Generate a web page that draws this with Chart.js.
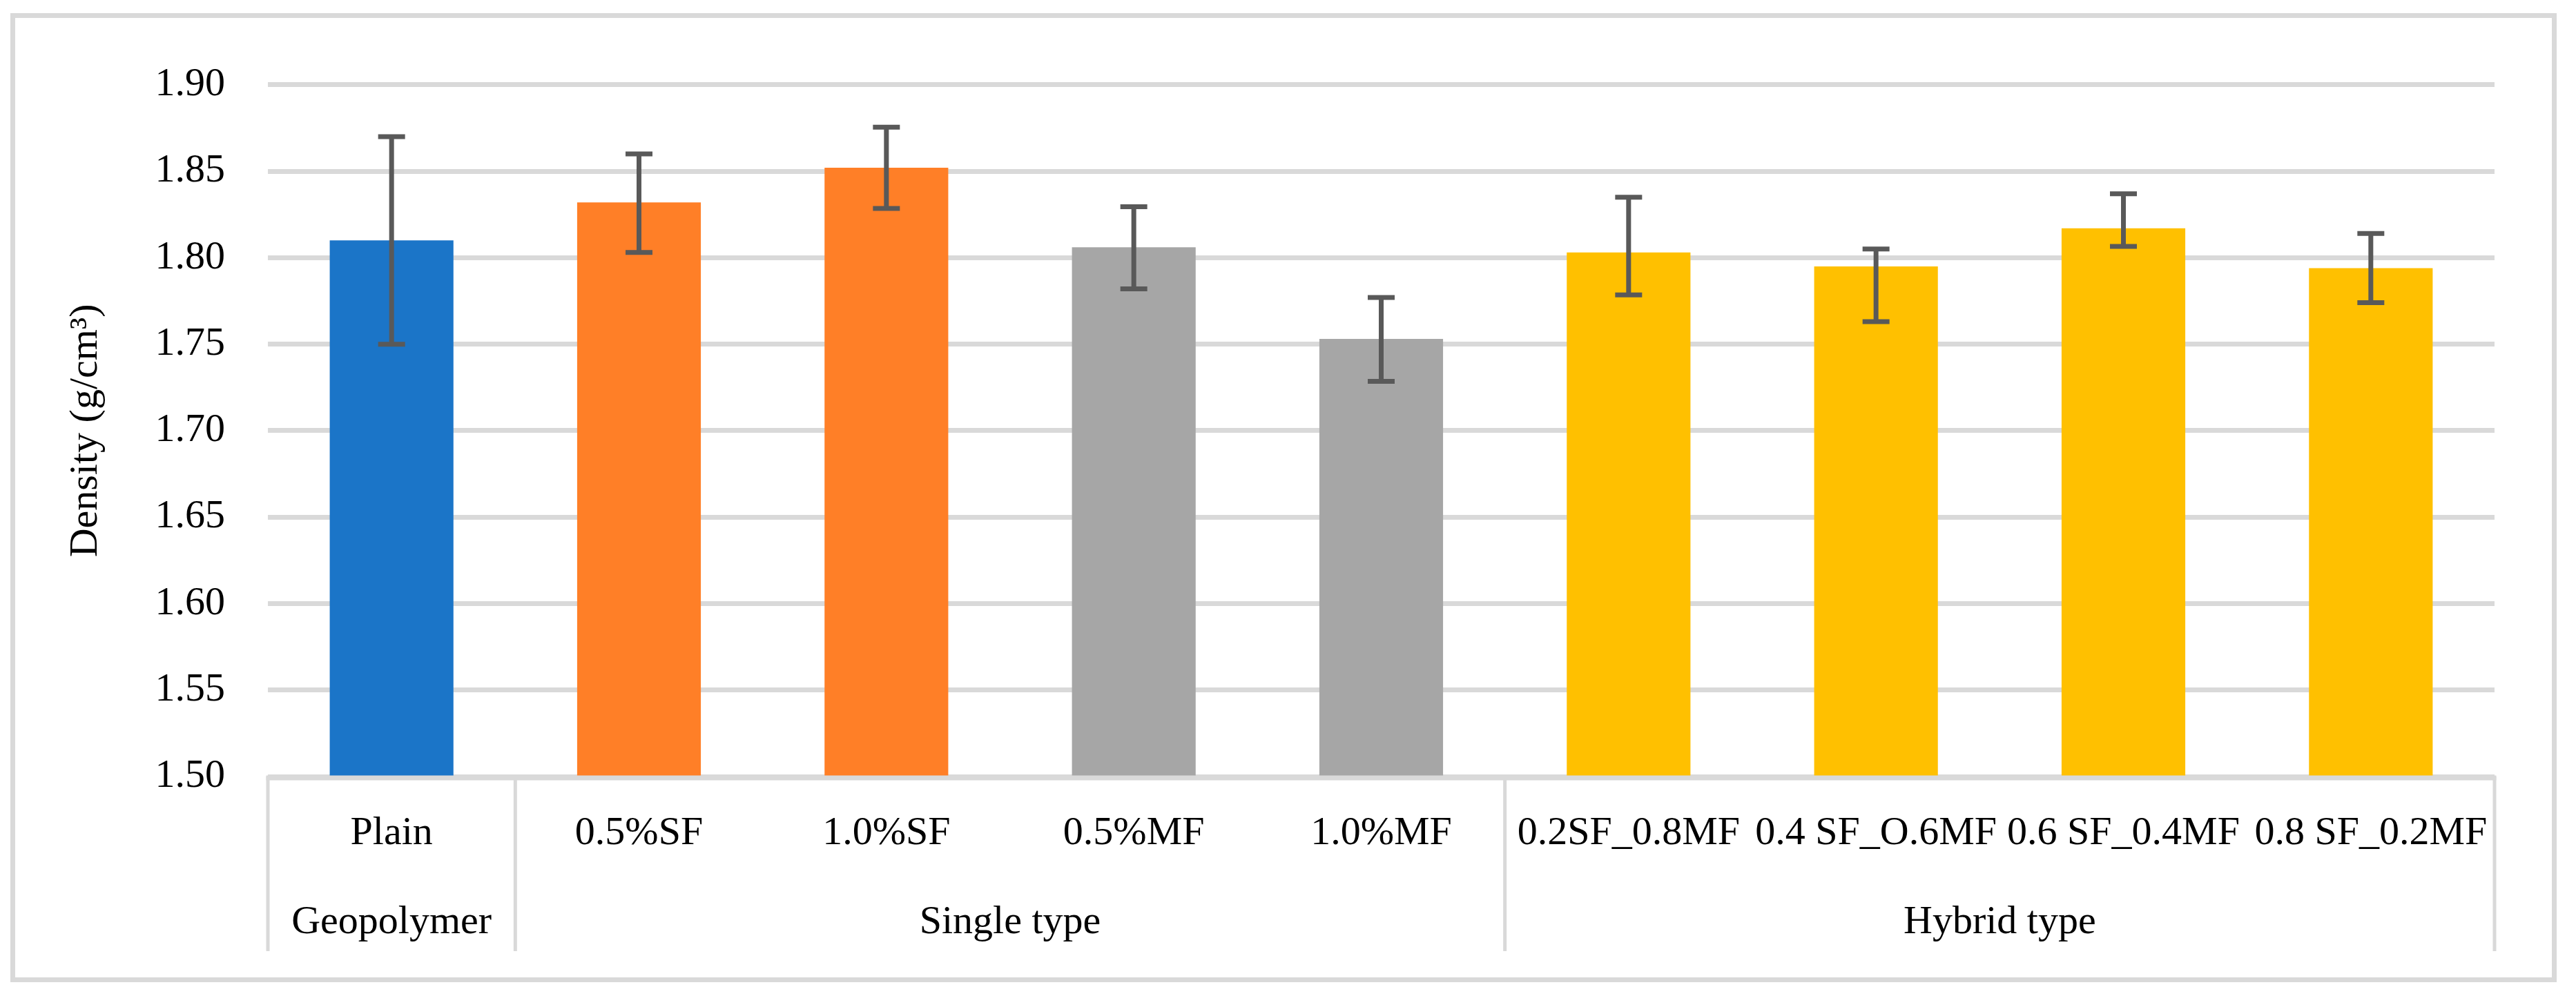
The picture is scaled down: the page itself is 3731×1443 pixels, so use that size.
<!DOCTYPE html>
<html>
<head>
<meta charset="utf-8">
<script src="https://cdn.jsdelivr.net/npm/chart.js@4.4.1/dist/chart.umd.min.js"></script>
<style>
    html, body { margin: 0; padding: 0; background: #fff; }
    #frame {
        position: absolute; left: 15px; top: 19px;
        width: 3688px; height: 1404px;
        box-sizing: border-box; border: 7px solid #d9d9d9;
    }
    #densityChart { display: block; }
</style>
</head>
<body>
<div id="frame"><canvas id="densityChart" width="3674" height="1390"></canvas></div>
<script>
// data
const categories = ['Plain', '0.5%SF', '1.0%SF', '0.5%MF', '1.0%MF', '0.2SF_0.8MF', '0.4 SF_O.6MF', '0.6 SF_0.4MF', '0.8 SF_0.2MF'];
const groupLabels = ['Geopolymer', 'Single type', 'Hybrid type'];
const groupSizes = [1, 4, 4];
const density = [1.810, 1.832, 1.852, 1.806, 1.753, 1.803, 1.795, 1.817, 1.794];
const errPlus = [0.060, 0.028, 0.0235, 0.0235, 0.024, 0.032, 0.010, 0.020, 0.020];
const errMinus = [0.060, 0.029, 0.0235, 0.024, 0.0245, 0.0245, 0.032, 0.0105, 0.020];
const yTicks = [1.50, 1.55, 1.60, 1.65, 1.70, 1.75, 1.80, 1.85, 1.90];

let blueColor = 'rgb(27, 117, 200)';
let orangeColor = 'rgb(255, 127, 39)';
let greyColor = 'rgb(166, 166, 166)';
let yellowColor = 'rgb(255, 192, 0)';
let barColors = [blueColor, orangeColor, orangeColor, greyColor, greyColor, yellowColor, yellowColor, yellowColor, yellowColor];
let lineGrey = '#d9d9d9';
const fontFamily = '"Liberation Serif", "Times New Roman", serif';

// error bars on top of the bars
const errorBars = {
    id: 'errorBars',
    afterDatasetsDraw(chart) {
        const ctx = chart.ctx;
        const yScale = chart.scales.y;
        const meta = chart.getDatasetMeta(0);
        ctx.save();
        ctx.strokeStyle = '#595959';
        ctx.lineWidth = 7;
        meta.data.forEach((bar, i) => {
            const x = bar.x;
            const yTop = yScale.getPixelForValue(density[i] + errPlus[i]);
            const yBot = yScale.getPixelForValue(density[i] - errMinus[i]);
            ctx.beginPath();
            ctx.moveTo(x, yTop);
            ctx.lineTo(x, yBot);
            ctx.moveTo(x - 19.5, yTop);
            ctx.lineTo(x + 19.5, yTop);
            ctx.moveTo(x - 19.5, yBot);
            ctx.lineTo(x + 19.5, yBot);
            ctx.stroke();
        });
        ctx.restore();
    }
};

// two-level category axis: labels, group labels and separators
const groupedAxis = {
    id: 'groupedAxis',
    afterDraw(chart) {
        const ctx = chart.ctx;
        const xScale = chart.scales.x;
        const area = chart.chartArea;
        const step = (xScale.right - xScale.left) / categories.length;
        const row1 = area.bottom + 83;
        const row2 = area.bottom + 212;
        const sepBottom = area.bottom + 253;
        ctx.save();
        ctx.fillStyle = '#000';
        ctx.font = '58px ' + fontFamily;
        ctx.textAlign = 'center';
        ctx.textBaseline = 'middle';
        categories.forEach((c, i) => {
            ctx.fillText(c, xScale.getPixelForValue(i), row1);
        });
        // separators
        ctx.strokeStyle = lineGrey;
        ctx.lineWidth = 5;
        let start = 0;
        const bounds = [0];
        groupSizes.forEach((n, g) => {
            const left = xScale.getPixelForValue(start) - step / 2;
            const right = xScale.getPixelForValue(start + n - 1) + step / 2;
            ctx.fillText(groupLabels[g], (left + right) / 2, row2);
            start += n;
            bounds.push(start);
        });
        bounds.forEach(b => {
            const x = b === categories.length ? xScale.right : xScale.getPixelForValue(b) - step / 2;
            ctx.beginPath();
            ctx.moveTo(x, area.bottom);
            ctx.lineTo(x, sepBottom);
            ctx.stroke();
        });
        // axis line
        ctx.lineWidth = 7;
        ctx.beginPath();
        ctx.moveTo(xScale.left - 2.5, area.bottom + 2);
        ctx.lineTo(xScale.right + 2.5, area.bottom + 2);
        ctx.stroke();
        ctx.restore();
    }
};

const config = {
    type: 'bar',
    data: {
        labels: categories,
        datasets: [{
            label: 'Density',
            data: density,
            backgroundColor: barColors,
            borderWidth: 0,
            barPercentage: 0.5,
            categoryPercentage: 1.0
        }]
    },
    options: {
        animation: false,
        responsive: false,
        layout: {
            padding: { left: 0, top: 88, right: 83, bottom: 0 }
        },
        plugins: {
            legend: { display: false },
            tooltip: { enabled: false }
        },
        scales: {
            x: {
                grid: { display: false, drawTicks: false },
                border: { display: false },
                ticks: { display: false },
                afterFit: (scale) => { scale.height = 291; }
            },
            y: {
                min: yTicks[0],
                max: yTicks[yTicks.length - 1],
                afterBuildTicks: (scale) => { scale.ticks = yTicks.map(v => ({ value: v })); },
                grid: { color: lineGrey, lineWidth: 7, drawTicks: false },
                border: { display: false },
                ticks: {
                    padding: 62,
                    color: '#000',
                    font: { family: fontFamily, size: 58 },
                    callback: (v) => Number(v).toFixed(2)
                },
                title: {
                    display: true,
                    text: 'Density (g/cm³)',
                    color: '#000',
                    font: { family: fontFamily, size: 58 },
                    padding: { top: 68, bottom: 0 }
                },
                afterFit: (scale) => { scale.width = 366; }
            }
        }
    },
    plugins: [errorBars, groupedAxis]
};

new Chart('densityChart', config);
</script>
</body>
</html>
